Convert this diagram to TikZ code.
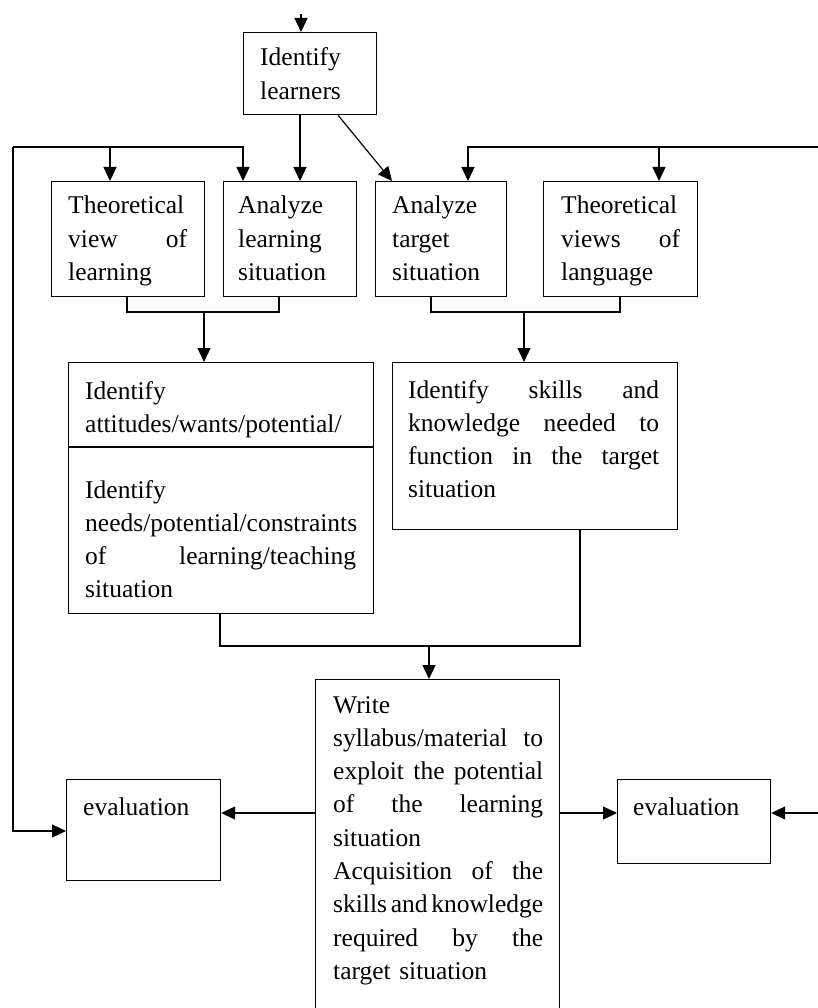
\documentclass[tikz,border=0pt]{standalone}
\usepackage{fontspec}
\setmainfont{Liberation Serif}
\usetikzlibrary{arrows.meta}

% a justified line of given width (words separated by \hfill)
\newcommand{\jline}[2]{\makebox[#1][l]{#2}}

\begin{document}
\begin{tikzpicture}[x=1pt, y=-1pt,
  box/.style={draw, line width=1.2pt, inner sep=0pt, anchor=north west},
  txt/.style={inner sep=0pt, anchor=base west, align=left,
    font=\fontsize{25.5}{33.3}\selectfont},
  link/.style={line width=1.2pt},
  arr/.style={line width=1.2pt, -{Triangle[length=14pt,width=13pt]}}]
\useasboundingbox (0,0) rectangle (818,1008);
\clip (0,0) rectangle (818,1008);

% ---- boxes ----
\node[box, minimum width=133pt, minimum height=82pt]  (idl)     at (243,32)  {};
\node[box, minimum width=153pt, minimum height=115pt] (tview)   at (51,181)  {};
\node[box, minimum width=133pt, minimum height=115pt] (alearn)  at (223,181) {};
\node[box, minimum width=131pt, minimum height=115pt] (atarget) at (375,181) {};
\node[box, minimum width=154pt, minimum height=115pt] (tlang)   at (543,181) {};
\node[box, minimum width=305pt, minimum height=251pt] (needs)   at (68,362)  {};
\node[box, minimum width=285pt, minimum height=167pt] (skills)  at (392,362) {};
\node[box, minimum width=244pt, minimum height=345pt] (write)   at (315,679) {};
\node[box, minimum width=154pt, minimum height=101pt] (evalL)   at (66,779)  {};
\node[box, minimum width=153pt, minimum height=84pt]  (evalR)   at (617,779) {};

% divider inside the needs box
\draw[link] (needs.west |- 0,447) -- (needs.east |- 0,447);

% ---- texts ----
\node[txt, text width=110pt] (t-idl) at (260,66) {Identify\\learners};
\node[txt, text width=119pt] (t-tview) at (68,214)
  {Theoretical\\\jline{119pt}{view\hfill of}\\learning};
\node[txt, text width=110pt] (t-alearn) at (238,214)
  {Analyze\\learning\\situation};
\node[txt, text width=110pt] (t-atarget) at (392,214)
  {Analyze\\target\\situation};
\node[txt, text width=119pt] (t-tlang) at (561,214)
  {Theoretical\\\jline{119pt}{views\hfill of}\\language};
\node[txt, text width=275pt] (t-att) at (85,399)
  {Identify\\attitudes/wants/potential/};
\node[txt, text width=275pt] (t-needs) at (85,498)
  {Identify\\needs/potential/constraints\\\jline{271pt}{of\hfill learning/teaching}\\situation};
\node[txt, text width=251pt] (t-skills) at (408,398)
  {\jline{251pt}{Identify\hfill skills\hfill and}\\
   \jline{251pt}{knowledge\hfill needed\hfill to}\\
   \jline{251pt}{function\hfill in\hfill the\hfill target}\\situation};
\node[txt, text width=215pt] (t-write) at (333,713)
  {Write\\
   \jline{210pt}{syllabus/material\hfill to}\\
   \jline{210pt}{exploit\hfill the\hfill potential}\\
   \jline{210pt}{of\hfill the\hfill learning}\\
   situation\\
   \jline{210pt}{Acquisition\hfill of\hfill the}\\
   \jline{210pt}{skills\hfill and\hfill knowledge}\\
   \jline{210pt}{required\hfill by\hfill the}\\
   target situation};
\node[txt] (t-evalL) at (83,815) {evaluation};
\node[txt] (t-evalR) at (633,815) {evaluation};

% ---- junction points ----
\coordinate (in)  at (301,14);
\coordinate (xa)  at (300,0);
\coordinate (xd1) at (338,0);
\coordinate (xd2) at (392,0);
\coordinate (lb0) at (13,147);
\coordinate (lb1) at (110,147);
\coordinate (lb2) at (243,147);
\coordinate (ly)  at (0,831);
\coordinate (rb0) at (818,147);
\coordinate (rb1) at (659,147);
\coordinate (rb2) at (468,147);
\coordinate (rin) at (818,813);
\coordinate (b1)  at (127,0);
\coordinate (b2)  at (279,0);
\coordinate (bj1) at (204,312);
\coordinate (b3)  at (431,0);
\coordinate (b4)  at (620,0);
\coordinate (bj2) at (524,312);
\coordinate (c1)  at (220,0);
\coordinate (c2)  at (580,0);
\coordinate (cj)  at (429,646);
\coordinate (my)  at (0,813);

% ---- connectors ----
\draw[arr] (in) -- (idl.north -| in);
\draw[arr] (idl.south -| xa) -- (alearn.north -| xa);
\draw[arr] (idl.south -| xd1) -- (atarget.north -| xd2);

\draw[arr] (lb0) -- (lb2) -- (alearn.north -| lb2);
\draw[arr] (lb1) -- (tview.north -| lb1);
\draw[arr] (lb0) |- (evalL.west |- ly);

\draw[arr] (rb0) -- (rb2) -- (atarget.north -| rb2);
\draw[arr] (rb1) -- (tlang.north -| rb1);
\draw[arr] (rin) -- (evalR.east |- rin);

\draw[link] (tview.south -| b1) |- (bj1) -| (alearn.south -| b2);
\draw[arr] (bj1) -- (needs.north -| bj1);
\draw[link] (atarget.south -| b3) |- (bj2) -| (tlang.south -| b4);
\draw[arr] (bj2) -- (skills.north -| bj2);

\draw[link] (needs.south -| c1) |- (cj) -| (skills.south -| c2);
\draw[arr] (cj) -- (write.north -| cj);

\draw[arr] (write.west |- my) -- (evalL.east |- my);
\draw[arr] (write.east |- my) -- (evalR.west |- my);
\end{tikzpicture}
\end{document}
